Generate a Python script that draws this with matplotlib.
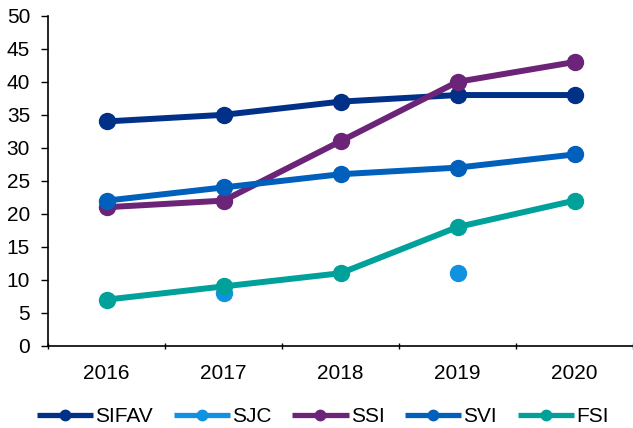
import numpy as np
import matplotlib.pyplot as plt

plt.rcParams['font.family'] = ['Liberation Sans', 'DejaVu Sans']

years = ['2016', '2017', '2018', '2019', '2020']
sifav = [34, 35, 37, 38, 38]
sjc = [np.nan, 8, np.nan, 11, np.nan]
ssi = [21, 22, 31, 40, 43]
svi = [22, 24, 26, 27, 29]
fsi = [7, 9, 11, 18, 22]

series = [
    ('SIFAV', sifav, '#003087'),
    ('SJC', sjc, '#1192E0'),
    ('SSI', ssi, '#6B2478'),
    ('SVI', svi, '#0060BB'),
    ('FSI', fsi, '#00A19A'),
]

fig = plt.figure(figsize=(6.33, 4.28), dpi=100)
ax = fig.add_axes([0.076, 0.192, 0.924, 0.771])

x = np.arange(len(years))
for name, vals, col in series:
    ax.plot(x, vals, color=col, lw=4.3, marker='o', ms=11.5, label=name,
            solid_capstyle='butt')

ax.set_xlim(-0.5, len(years) - 0.5)
ax.set_ylim(0, 50)
ax.set_yticks(range(0, 51, 5))
ax.set_xticks(x)
ax.set_xticklabels(years)
ax.set_xticks(np.arange(-0.5, len(years), 1), minor=True)
ax.tick_params(axis='x', which='major', length=0, pad=13, labelsize=15)
ax.tick_params(axis='x', which='minor', length=5, width=1, direction='inout')
ax.tick_params(axis='y', length=5, width=1, labelsize=15, pad=8)

for s in ['top', 'right']:
    ax.spines[s].set_visible(False)
for s in ['left', 'bottom']:
    ax.spines[s].set_linewidth(1.2)

leg = fig.legend(loc='lower center', ncol=5, frameon=False, fontsize=15,
                 handlelength=2.7, handletextpad=0.1, columnspacing=1.0,
                 bbox_to_anchor=(0.51, -0.04), markerscale=0.65)
for h in leg.legend_handles:
    h.set_linewidth(3.8)

fig.savefig('out.png', dpi=100)
